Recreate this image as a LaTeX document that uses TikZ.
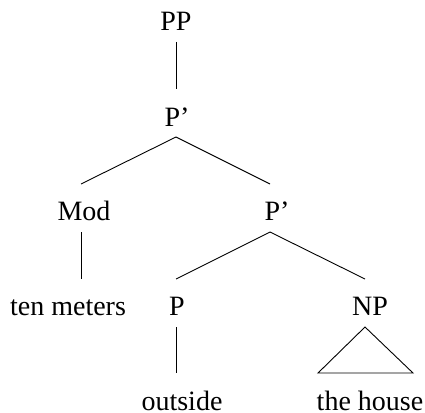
\documentclass[tikz,border=0pt]{standalone}
\usepackage{fontspec}
\setmainfont{Liberation Serif}
\begin{document}
\begin{tikzpicture}[x=1pt,y=-1pt,
  lbl/.style={anchor=base,inner sep=0pt,font=\fontsize{28}{32}\selectfont},
  edge/.style={line width=0.9pt,black}]
\useasboundingbox (0,0) rectangle (425,412);
\node[lbl] (pp) at (176,31) {PP};
\node[lbl] (p1) at (177,126) {P’};
\node[lbl] (mod) at (84,220) {Mod};
\node[lbl] (p2) at (277,220) {P’};
\node[lbl] (ten) at (68,315) {ten meters};
\node[lbl] (p) at (177,315) {P};
\node[lbl] (np) at (370,315) {NP};
\node[lbl] (outside) at (182,410) {outside};
\node[lbl] (house) at (370,410) {the house};
\draw[edge] ([shift={(0,11)}]pp.base) -- ([shift={(-1,-37)}]p1.base);
\draw[edge] ([shift={(-1,11)}]p1.base) -- ([shift={(-3,-36)}]mod.base);
\draw[edge] ([shift={(-1,11)}]p1.base) -- ([shift={(-7,-36)}]p2.base);
\draw[edge] ([shift={(-3,12)}]mod.base) -- ([shift={(13,-36)}]ten.base);
\draw[edge] ([shift={(-7,12)}]p2.base) -- ([shift={(-1,-36)}]p.base);
\draw[edge] ([shift={(-7,12)}]p2.base) -- ([shift={(-5,-36)}]np.base);
\draw[edge] ([shift={(-1,12)}]p.base) -- ([shift={(-6,-37)}]outside.base);
\draw[edge,line join=miter] ([shift={(-5,12)}]np.base) -- ([shift={(-52,-37)}]house.base) -- ([shift={(43,-37)}]house.base) -- cycle;
\end{tikzpicture}
\end{document}
